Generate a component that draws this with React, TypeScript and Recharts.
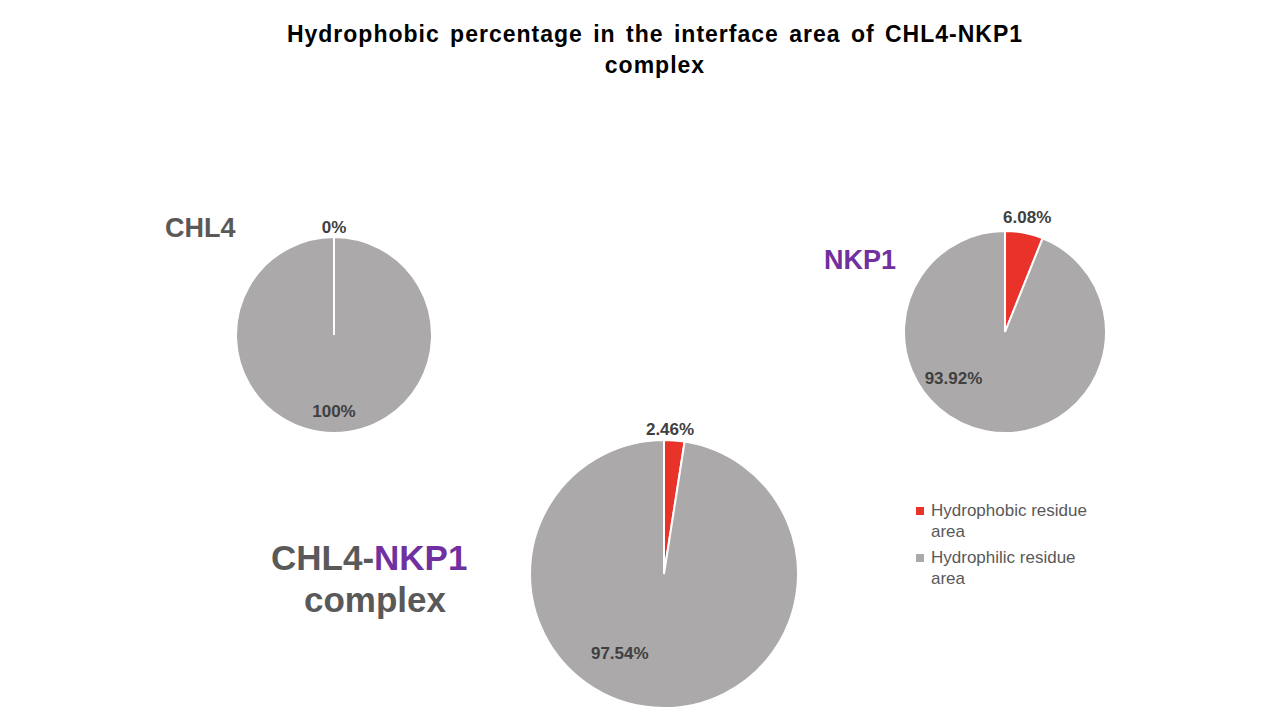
import React from 'react';
import { PieChart, Pie, Cell, Legend } from 'recharts';

const categories = ['Hydrophobic residue area', 'Hydrophilic residue area'];
const chl4Values = [0, 100];
const nkp1Values = [6.08, 93.92];
const complexValues = [2.46, 97.54];
const valueLabels = {
  chl4: ['0%', '100%'],
  nkp1: ['6.08%', '93.92%'],
  complex: ['2.46%', '97.54%'],
};
const legendLines = [
  ['Hydrophobic residue', 'area'],
  ['Hydrophilic residue', 'area'],
];

const COLORS = ['#E8322A', '#ABA9AA'];

const build = (vals: number[]) => categories.map((name, i) => ({ name, value: vals[i] }));
const chl4Data = build(chl4Values);
const nkp1Data = build(nkp1Values);
const complexData = build(complexValues);

// label offsets relative to radius (style only)
const labelOffsets: Record<string, [number, number][]> = {
  chl4: [[0, -1.1], [0, 0.78]],
  nkp1: [[0.22, -1.13], [-0.51, 0.46]],
  complex: [[0.045, -1.08], [-0.33, 0.59]],
};

const makeLabel = (key: string) => (props: any) => {
  const { cx, cy, outerRadius, index } = props;
  const [fx, fy] = labelOffsets[key][index];
  return (
    <text
      x={cx + fx * outerRadius}
      y={cy + fy * outerRadius}
      textAnchor="middle"
      dominantBaseline="central"
      fill="#404040"
      fontSize={17}
      fontWeight={700}
      fontFamily="Liberation Sans, Arial, sans-serif"
    >
      {valueLabels[key as keyof typeof valueLabels][index]}
    </text>
  );
};

const renderLegend = () => (
  <div style={{ fontFamily: 'Liberation Sans, Arial, sans-serif', fontSize: 17, color: '#595959', lineHeight: '21px' }}>
    {legendLines.map((lines, i) => (
      <div key={i} style={{ position: 'relative', paddingLeft: 15, marginBottom: 5 }}>
        <span
          style={{
            position: 'absolute',
            left: 0,
            top: 7,
            width: 8,
            height: 8,
            background: COLORS[i],
          }}
        />
        {lines.map((l, j) => (
          <div key={j}>{l}</div>
        ))}
      </div>
    ))}
  </div>
);

const textBase: React.CSSProperties = {
  position: 'absolute',
  fontFamily: 'Liberation Sans, Arial, sans-serif',
  fontWeight: 700,
  whiteSpace: 'nowrap',
};

export default function App() {
  return (
    <div style={{ position: 'absolute', left: 0, top: 0, width: 1280, height: 720, background: '#fff' }}>
      <PieChart width={1280} height={720} margin={{ top: 0, right: 0, bottom: 0, left: 0 }}>
        <Pie
          data={chl4Data}
          dataKey="value"
          cx={334}
          cy={335}
          outerRadius={98}
          startAngle={90}
          endAngle={-270}
          stroke="#fff"
          strokeWidth={2}
          label={makeLabel('chl4')}
          labelLine={false}
          isAnimationActive={false}
        >
          {chl4Data.map((d, i) => (
            <Cell key={i} fill={COLORS[i]} />
          ))}
        </Pie>
        <Pie
          data={nkp1Data}
          dataKey="value"
          cx={1005}
          cy={332}
          outerRadius={101}
          startAngle={90}
          endAngle={-270}
          stroke="#fff"
          strokeWidth={2}
          label={makeLabel('nkp1')}
          labelLine={false}
          isAnimationActive={false}
        >
          {nkp1Data.map((d, i) => (
            <Cell key={i} fill={COLORS[i]} />
          ))}
        </Pie>
        <Pie
          data={complexData}
          dataKey="value"
          cx={664}
          cy={574}
          outerRadius={134}
          startAngle={90}
          endAngle={-270}
          stroke="#fff"
          strokeWidth={2}
          label={makeLabel('complex')}
          labelLine={false}
          isAnimationActive={false}
        >
          {complexData.map((d, i) => (
            <Cell key={i} fill={COLORS[i]} />
          ))}
        </Pie>
        <Legend
          content={renderLegend}
          layout="vertical"
          wrapperStyle={{ position: 'absolute', left: 916, top: 500, width: 220 }}
        />
      </PieChart>
      <div
        style={{
          ...textBase,
          left: 0,
          width: 1310,
          top: 19,
          textAlign: 'center',
          fontSize: 23,
          letterSpacing: 1,
          wordSpacing: 3,
          lineHeight: '31px',
          color: '#000',
        }}
      >
        Hydrophobic percentage in the interface area of CHL4-NKP1
        <br />
        complex
      </div>
      <div style={{ ...textBase, left: 165, top: 213, fontSize: 27, color: '#595959' }}>CHL4</div>
      <div style={{ ...textBase, left: 824, top: 245, fontSize: 27, color: '#7030A0' }}>NKP1</div>
      <div style={{ ...textBase, left: 271, top: 537, fontSize: 35, color: '#595959', lineHeight: '42px' }}>
        CHL4-<span style={{ color: '#7030A0' }}>NKP1</span>
      </div>
      <div style={{ ...textBase, left: 304, top: 579, fontSize: 35, color: '#595959', lineHeight: '42px' }}>
        complex
      </div>
    </div>
  );
}
